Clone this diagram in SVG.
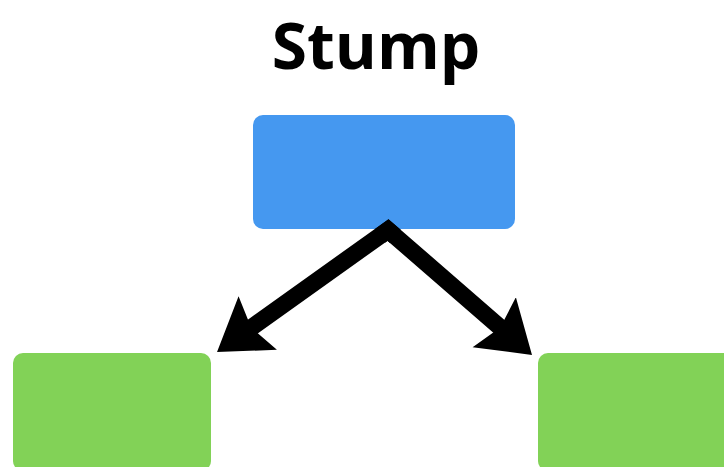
<svg xmlns="http://www.w3.org/2000/svg" width="724" height="467" viewBox="0 0 724 467">
<style>
.title{font-family:"Open Sans","Liberation Sans",Arial,sans-serif;font-weight:bold;font-size:64px;fill:#000}
.root{fill:#4598F0}
.leaf{fill:#82D257}
.conn{fill:none;stroke:#000;stroke-width:17;stroke-linejoin:miter;stroke-miterlimit:10}
</style>
<defs>
<marker id="ah" markerUnits="userSpaceOnUse" viewBox="0 -35 52 70" refX="10" refY="0" markerWidth="52" markerHeight="70" orient="auto">
<path d="M0,-33 L50,0 L0,33 L8,0 Z" fill="#000"/>
</marker>
</defs>
<rect width="724" height="467" fill="#fff"/>
<g id="title"><text class="title" x="376" y="69" text-anchor="middle">Stump</text></g>
<g id="root"><rect class="root" x="253" y="115" width="262" height="114" rx="10"/></g>
<g id="leaf-left"><rect class="leaf" x="13" y="353" width="198" height="118" rx="10"/></g>
<g id="leaf-right"><rect class="leaf" x="538" y="353" width="200" height="118" rx="10"/></g>
<g id="connectors">
<path class="conn" d="M395.5,236.5 L388,230 L249.6,328.8" marker-end="url(#ah)"/>
<path class="conn" d="M380,235.8 L388,230 L501.8,328.8" marker-end="url(#ah)"/>
</g>
</svg>
